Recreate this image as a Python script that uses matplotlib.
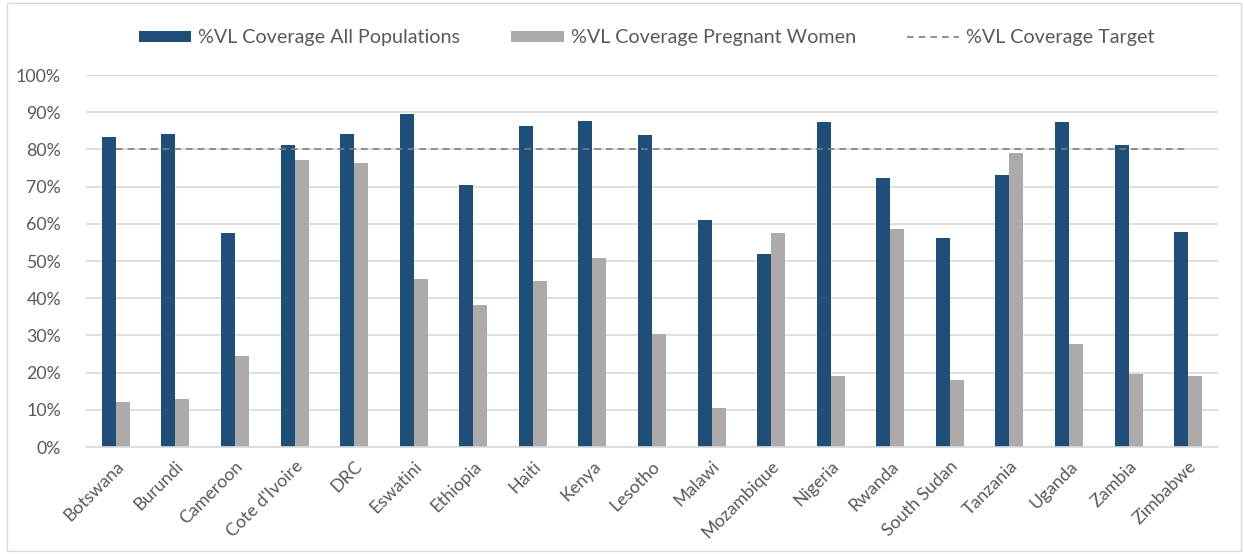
import numpy as np
import matplotlib
matplotlib.use('Agg')
import matplotlib.pyplot as plt
from matplotlib.patches import Rectangle

plt.rcParams['font.family'] = ['Lato', 'DejaVu Sans']

countries = ['Botswana', 'Burundi', 'Cameroon', "Cote d'Ivoire", 'DRC', 'Eswatini',
             'Ethiopia', 'Haiti', 'Kenya', 'Lesotho', 'Malawi', 'Mozambique',
             'Nigeria', 'Rwanda', 'South Sudan', 'Tanzania', 'Uganda', 'Zambia',
             'Zimbabwe']
all_pops = [83.3, 84.2, 57.4, 81.2, 84.1, 89.4, 70.5, 86.2, 87.7, 83.8, 61.1,
            51.9, 87.5, 72.2, 56.3, 73.2, 87.5, 81.2, 57.7]
pregnant = [12.0, 12.8, 24.4, 77.1, 76.3, 45.2, 38.2, 44.6, 50.7, 30.4, 10.4,
            57.5, 19.1, 58.7, 18.1, 79.0, 27.8, 19.6, 19.1]
target = [80] * len(countries)

blue = '#1F4E79'
grey = '#AEAAAA'
text_col = '#595959'

fig = plt.figure(figsize=(12.44, 5.54), dpi=100)
ax = fig.add_axes([86 / 1244, 1 - 447 / 554, (1218 - 86) / 1244, (447 - 75) / 554])

x = np.arange(len(countries))
w = 0.235
b1 = ax.bar(x - w / 2, all_pops, w, color=blue, label='%VL Coverage All Populations')
b2 = ax.bar(x + w / 2, pregnant, w, color=grey, label='%VL Coverage Pregnant Women')
ln, = ax.plot(x, target, color='#7F7F7F', linestyle=(0, (4, 3)), linewidth=1.2,
              label='%VL Coverage Target')

ax.set_xlim(-0.5, len(countries) - 0.5)
ax.set_ylim(0, 100)
ax.set_yticks(np.arange(0, 101, 10))
ax.set_yticklabels([f'{v}%' for v in range(0, 101, 10)])
ax.set_xticks(x)
ax.set_xticklabels(countries, rotation=45, ha='right', rotation_mode='anchor')
ax.tick_params(axis='both', length=0, labelsize=12.8, colors=text_col)
ax.tick_params(axis='y', pad=18)
ax.tick_params(axis='x', pad=8)
ax.grid(axis='y', color='#D9D9D9', linewidth=1.2)
ax.set_axisbelow(True)
for s in ['top', 'right', 'left']:
    ax.spines[s].set_visible(False)
ax.spines['bottom'].set_color('#D9D9D9')
ax.spines['bottom'].set_linewidth(1.2)

leg = fig.legend(handles=[b1, b2, ln], loc='center', bbox_to_anchor=(0.52, 1 - 38 / 554),
                 ncol=3, frameon=False, fontsize=14.2, handlelength=2.65, handleheight=0.55,
                 columnspacing=2.6, handletextpad=0.35)
for t in leg.get_texts():
    t.set_color(text_col)

fig.patches.append(Rectangle((7 / 1244, 0.005), 1234 / 1244, 0.99, transform=fig.transFigure,
                             fill=False, edgecolor='#D9D9D9', linewidth=1))

fig.savefig('out.png', dpi=100)
